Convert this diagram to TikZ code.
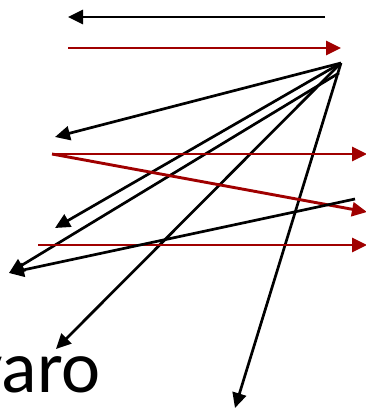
\documentclass[tikz,border=0pt]{standalone}
\usepackage{fontspec}
\setmainfont{Carlito}
\usetikzlibrary{arrows.meta}
\definecolor{darkred}{RGB}{160,0,0}
\begin{document}
\begin{tikzpicture}[x=1pt,y=-1pt,
  blk/.style={draw=black,line width=2.7pt,-{Triangle[length=15pt,width=14pt]}},
  redl/.style={draw=darkred,line width=2.9pt,-{Triangle[length=15pt,width=14pt]},color=darkred}]
\useasboundingbox (0,0) rectangle (366,410);
\coordinate (ts) at (325,17);
\coordinate (te) at (68,17);
\coordinate (rs) at (68,48);
\coordinate (re) at (341,48);
\coordinate (H) at (341,63);
\coordinate (H2) at (339,73);
\coordinate (a1) at (55,137);
\coordinate (a2) at (55,228);
\coordinate (a3) at (9,273);
\coordinate (a4) at (56,349);
\coordinate (a5) at (235,408);
\coordinate (B) at (355,199);
\coordinate (r1s) at (52,154);
\coordinate (r1e) at (367,154);
\coordinate (r2e) at (367,212);
\coordinate (r3s) at (38,245);
\coordinate (r3e) at (367,245);
\draw[blk] (ts) -- (te);
\draw[redl] (rs) -- (re);
\draw[blk] (H) -- (a1);
\draw[blk] (H) -- (a2);
\draw[blk] (H2) -- (a3);
\draw[blk] (H) -- (a4);
\draw[blk] (H) -- (a5);
\draw[redl] (r1s) -- (r1e);
\draw[redl] (r1s) -- (r2e);
\draw[redl] (r3s) -- (r3e);
\draw[blk] (B) -- (a3);
\node[anchor=base east,inner sep=0pt,font=\fontsize{74}{74}\selectfont] (txt) at (101,392) {varo};
\end{tikzpicture}
\end{document}
